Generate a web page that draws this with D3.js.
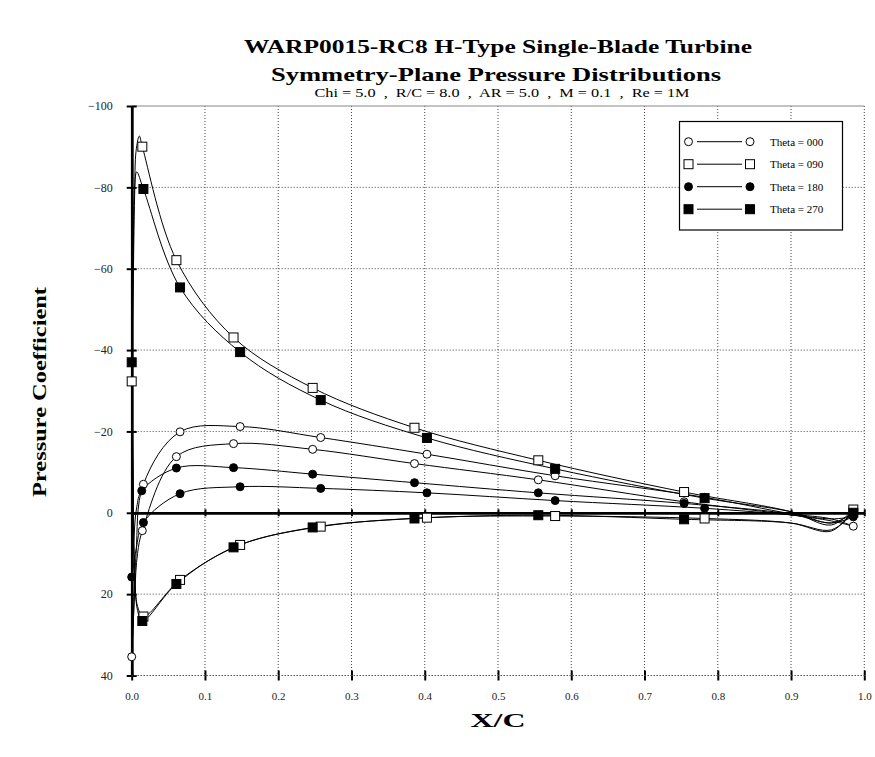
<!DOCTYPE html>
<html>
<head>
<meta charset="utf-8">
<script src="https://cdn.jsdelivr.net/npm/d3@7"></script>
<style>
  html, body { margin: 0; padding: 0; background: #fff; }
  svg { display: block; font-family: "Liberation Serif", "Times New Roman", serif; }
</style>
</head>
<body>
<svg id="chart" width="875" height="757"></svg>
<script>
// ---------- DATA ----------
const titleLines = ["WARP0015-RC8 H-Type Single-Blade Turbine", "Symmetry-Plane Pressure Distributions"];
const subtitle = "Chi = 5.0  ,  R/C = 8.0  ,  AR = 5.0  ,  M = 0.1  ,  Re = 1M";
const xLabel = "X/C";
const yLabel = "Pressure Coefficient";
const seriesNames = ["Theta = 000", "Theta = 090", "Theta = 180", "Theta = 270"];
const xTicks = [0.0, 0.1, 0.2, 0.3, 0.4, 0.5, 0.6, 0.7, 0.8, 0.9, 1.0];
const yTicks = [-100, -80, -60, -40, -20, 0, 20, 40];

// curve paths: surface A trailing edge -> leading edge -> surface B trailing edge  [x/c, Cp]
const curve000 = [[0.985,3.3],[0.955,1.5],[0.899,0.2],[0.782,-3.8],[0.578,-9.1],[0.403,-14.4],[0.258,-18.5],[0.148,-21.2],[0.066,-19.9],[0.016,-7.0],[0.006,10],[0.002,28],[0.0,35.4],[0.004,20],[0.008,10],[0.0145,4.4],[0.061,-13.8],[0.139,-17.0],[0.247,-15.6],[0.386,-12.1],[0.555,-8.1],[0.754,-2.7],[0.899,0.5],[0.955,2.0],[0.985,3.3]];
const curve090 = [[0.985,-0.8],[0.955,3.0],[0.899,-0.3],[0.754,-5.1],[0.555,-12.9],[0.386,-20.9],[0.247,-30.7],[0.139,-43.1],[0.061,-62.1],[0.0145,-90.0],[0.0104,-92.6],[0.006,-89],[0.004,-78],[0.002,-55],[0.0,-32.3],[0.002,-5],[0.004,14],[0.008,23],[0.016,25.5],[0.066,16.5],[0.148,7.9],[0.258,3.4],[0.403,1.2],[0.578,0.8],[0.782,1.4],[0.899,2.5],[0.955,4.5],[0.985,-0.8]];
const curve180 = [[0.985,1.0],[0.955,1.5],[0.899,0.5],[0.782,-1.1],[0.578,-3.0],[0.403,-4.9],[0.258,-6.0],[0.148,-6.4],[0.066,-4.7],[0.016,2.4],[0.006,9],[0.0,15.8],[0.003,6],[0.007,-1.5],[0.0137,-5.4],[0.061,-11.0],[0.139,-11.1],[0.247,-9.5],[0.386,-7.4],[0.555,-4.9],[0.754,-2.3],[0.899,0.3],[0.955,2.5],[0.985,1.0]];
const curve270 = [[0.985,0.0],[0.955,2.5],[0.899,-0.3],[0.782,-3.6],[0.578,-10.8],[0.403,-18.4],[0.258,-27.7],[0.148,-39.5],[0.066,-55.4],[0.016,-79.6],[0.0068,-83.8],[0.004,-80],[0.002,-62],[0.0,-37.0],[0.002,-8],[0.004,14],[0.008,24],[0.0145,26.6],[0.061,17.5],[0.139,8.5],[0.247,3.6],[0.386,1.4],[0.555,0.6],[0.754,1.6],[0.899,2.5],[0.955,4.2],[0.985,0.0]];

// measured points (markers)  [x/c, Cp]
const markers000 = [[0.0,35.4],[0.016,-7.0],[0.066,-19.9],[0.148,-21.2],[0.258,-18.5],[0.403,-14.4],[0.578,-9.1],[0.782,-3.8],[0.0145,4.4],[0.061,-13.8],[0.139,-17.0],[0.247,-15.6],[0.386,-12.1],[0.555,-8.1],[0.754,-2.7],[0.985,3.3]];
const markers090 = [[0.0,-32.3],[0.0145,-90.0],[0.061,-62.1],[0.139,-43.1],[0.247,-30.7],[0.386,-20.9],[0.555,-12.9],[0.754,-5.1],[0.016,25.5],[0.066,16.5],[0.148,7.9],[0.258,3.4],[0.403,1.2],[0.578,0.8],[0.782,1.4],[0.985,-0.8]];
const markers180 = [[0.0,15.8],[0.016,2.4],[0.066,-4.7],[0.148,-6.4],[0.258,-6.0],[0.403,-4.9],[0.578,-3.0],[0.782,-1.1],[0.0137,-5.4],[0.061,-11.0],[0.139,-11.1],[0.247,-9.5],[0.386,-7.4],[0.555,-4.9],[0.754,-2.3],[0.985,1.0]];
const markers270 = [[0.0,-37.0],[0.016,-79.6],[0.066,-55.4],[0.148,-39.5],[0.258,-27.7],[0.403,-18.4],[0.578,-10.8],[0.782,-3.6],[0.0145,26.6],[0.061,17.5],[0.139,8.5],[0.247,3.6],[0.386,1.4],[0.555,0.6],[0.754,1.6],[0.985,0.0]];

const markerShapes = ["circle", "square", "circle", "square"];
const markerFilled = [false, false, true, true];

// ---------- CHART ----------
const svg = d3.select("#chart");
const x = d3.scaleLinear().domain([0, 1]).range([131.7, 864.3]);
const y = d3.scaleLinear().domain([-100, 40]).range([106, 675.5]);

// titles
svg.append("text").attr("x", 498).attr("y", 53).attr("text-anchor", "middle")
  .attr("font-size", 19).attr("font-weight", "bold")
  .attr("textLength", 508).attr("lengthAdjust", "spacingAndGlyphs").text(titleLines[0]);
svg.append("text").attr("x", 496).attr("y", 81).attr("text-anchor", "middle")
  .attr("font-size", 19).attr("font-weight", "bold")
  .attr("textLength", 450).attr("lengthAdjust", "spacingAndGlyphs").text(titleLines[1]);
svg.append("text").attr("x", 502).attr("y", 97).attr("text-anchor", "middle")
  .attr("font-size", 13).style("white-space", "pre")
  .attr("textLength", 375).attr("lengthAdjust", "spacingAndGlyphs").text(subtitle);

// grid
const grid = svg.append("g").attr("stroke", "#444").attr("stroke-width", 1).attr("stroke-dasharray", "1,2");
grid.selectAll("line.v").data(xTicks.filter(d => d > 0)).join("line")
  .attr("x1", d => x(d)).attr("x2", d => x(d)).attr("y1", y(-100)).attr("y2", y(40));
grid.selectAll("line.h").data(yTicks.filter(d => d !== 0 && d !== -100)).join("line")
  .attr("x1", x(0)).attr("x2", x(1)).attr("y1", d => y(d)).attr("y2", d => y(d));
svg.append("line").attr("x1", x(0)).attr("x2", x(1)).attr("y1", y(-100)).attr("y2", y(-100))
  .attr("stroke", "#888").attr("stroke-width", 1);

// axes
function styleAxis(g, w) {
  g.select(".domain").attr("stroke", "#000").attr("stroke-width", w);
  g.selectAll(".tick line").attr("stroke", "#000").attr("stroke-width", 2);
  g.selectAll(".tick text").attr("font-family", "Liberation Serif").attr("fill", "#222");
}
// y axis (ticks both sides)
const yAxL = svg.append("g").attr("transform", `translate(${x(0)},0)`)
  .call(d3.axisLeft(y).tickValues(yTicks).tickSize(5).tickSizeOuter(0).tickPadding(14).tickFormat(d3.format("d")));
yAxL.selectAll(".tick text").attr("font-size", 12);
styleAxis(yAxL, 2.5);
const yAxR = svg.append("g").attr("transform", `translate(${x(0)},0)`)
  .call(d3.axisRight(y).tickValues(yTicks).tickSize(5).tickSizeOuter(0).tickFormat(""));
styleAxis(yAxR, 2.5);

// zero line with ticks
const zeroUp = svg.append("g").attr("transform", `translate(0,${y(0)})`)
  .call(d3.axisTop(x).tickValues(xTicks).tickSize(3.5).tickSizeOuter(0).tickFormat(""));
styleAxis(zeroUp, 2.5);
const zeroDn = svg.append("g").attr("transform", `translate(0,${y(0)})`)
  .call(d3.axisBottom(x).tickValues(xTicks).tickSize(3.5).tickSizeOuter(0).tickFormat(""));
styleAxis(zeroDn, 2.5);

// bottom axis at Cp = 40
const botUp = svg.append("g").attr("transform", `translate(0,${y(40)})`)
  .call(d3.axisTop(x).tickValues(xTicks).tickSize(5).tickSizeOuter(0).tickFormat(""));
styleAxis(botUp, 0);
botUp.select(".domain").remove();
const botDn = svg.append("g").attr("transform", `translate(0,${y(40)})`)
  .call(d3.axisBottom(x).tickValues(xTicks).tickSize(5).tickSizeOuter(0).tickPadding(12).tickFormat(d3.format(".1f")));
botDn.selectAll(".tick text").attr("font-size", 11);
styleAxis(botDn, 0);
botDn.select(".domain").remove();
svg.append("line").attr("x1", x(0)).attr("x2", x(1)).attr("y1", y(40)).attr("y2", y(40))
  .attr("stroke", "#444").attr("stroke-dasharray", "1,2");

// axis titles
svg.append("text").attr("transform", `translate(46,392) rotate(-90)`).attr("text-anchor", "middle")
  .attr("font-size", 19).attr("font-weight", "bold")
  .attr("textLength", 210).attr("lengthAdjust", "spacingAndGlyphs").text(yLabel);
svg.append("text").attr("x", 498).attr("y", 727).attr("text-anchor", "middle")
  .attr("font-size", 19).attr("font-weight", "bold")
  .attr("textLength", 55).attr("lengthAdjust", "spacingAndGlyphs").text(xLabel);

// curves
const curves = [curve000, curve090, curve180, curve270];
const markers = [markers000, markers090, markers180, markers270];
const line = d3.line().x(d => x(d[0])).y(d => y(d[1])).curve(d3.curveCatmullRom.alpha(0.5));
svg.append("g").selectAll("path").data(curves).join("path")
  .attr("d", line).attr("fill", "none").attr("stroke", "#000").attr("stroke-width", 1);

// markers
function drawMarker(g, shape, filled, cx, cy) {
  if (shape === "circle") {
    g.append("circle").attr("cx", cx).attr("cy", cy).attr("r", 4)
      .attr("fill", filled ? "#000" : "#fff").attr("stroke", "#000").attr("stroke-width", 1);
  } else {
    g.append("rect").attr("x", cx - 4.5).attr("y", cy - 4.5).attr("width", 9).attr("height", 9)
      .attr("fill", filled ? "#000" : "#fff").attr("stroke", "#000").attr("stroke-width", 1);
  }
}
const mg = svg.append("g");
markers.forEach((pts, i) => {
  pts.forEach(p => drawMarker(mg, markerShapes[i], markerFilled[i], x(p[0]), y(p[1])));
});

// legend
const lg = svg.append("g");
lg.append("rect").attr("x", 679.5).attr("y", 121.5).attr("width", 163).attr("height", 108.5)
  .attr("fill", "#fff").attr("stroke", "#000").attr("stroke-width", 1.2);
seriesNames.forEach((name, i) => {
  const ly = 141.7 + i * 22.5;
  lg.append("line").attr("x1", 697).attr("x2", 742).attr("y1", ly).attr("y2", ly).attr("stroke", "#000");
  drawMarker(lg, markerShapes[i], markerFilled[i], 688.5, ly);
  drawMarker(lg, markerShapes[i], markerFilled[i], 750, ly);
  lg.append("text").attr("x", 770).attr("y", ly + 4).attr("font-size", 11).text(name);
});
</script>
</body>
</html>
